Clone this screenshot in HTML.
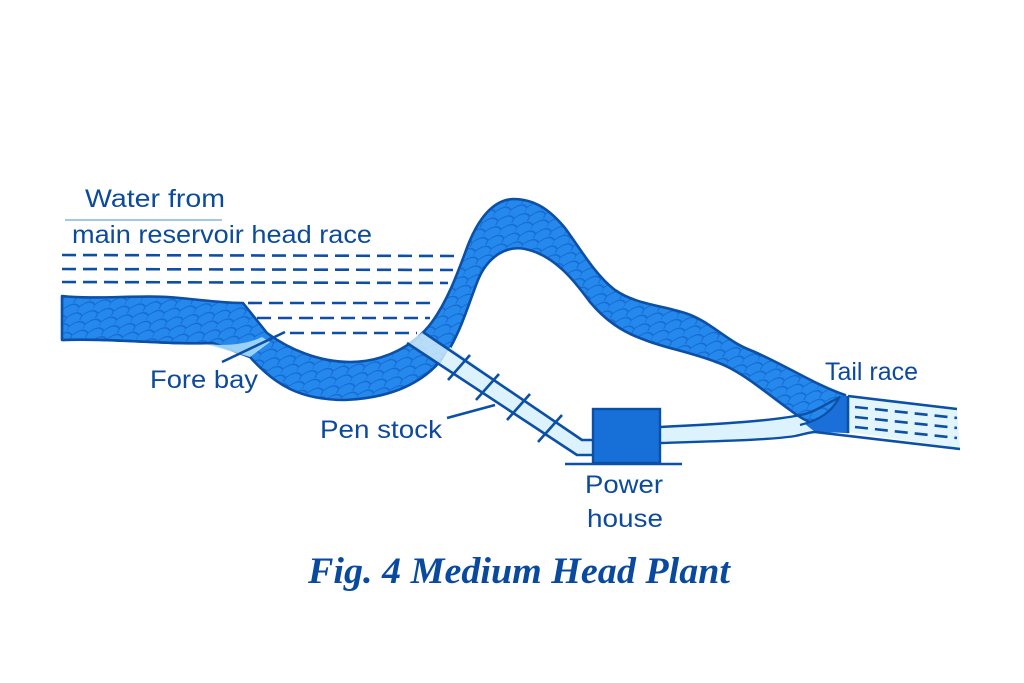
<!DOCTYPE html>
<html><head><meta charset="utf-8"><style>
html,body{margin:0;padding:0;background:#fff;}
svg{display:block;}
</style></head><body>
<svg width="1024" height="683" viewBox="0 0 1024 683" xmlns="http://www.w3.org/2000/svg">
<defs>
<pattern id="sc" width="16" height="18" patternUnits="userSpaceOnUse" patternTransform="rotate(-8) skewX(-35)">
<rect width="16" height="18" fill="#2588ec"/>
<path d="M0,9 Q8,2 16,9 M-8,18 Q0,11 8,18 M8,18 Q16,11 24,18 M0,9 L0,13 M8,18 L8,22 M8,0 L8,4" fill="none" stroke="#1160c6" stroke-width="1.2" opacity="0.75"/>
</pattern>
</defs>
<rect width="1024" height="683" fill="#fff"/>

<!-- dashed head race lines -->
<g stroke="#0d4fa3" stroke-width="2.6" stroke-dasharray="14 7" fill="none">
<line x1="62" y1="255" x2="458" y2="256"/>
<line x1="62" y1="269" x2="453" y2="270"/>
<line x1="62" y1="282" x2="448" y2="283"/>
<line x1="248" y1="303" x2="435" y2="303"/>
<line x1="257" y1="318" x2="430" y2="318"/>
<line x1="290" y1="333" x2="417" y2="333"/>
</g>

<!-- tail pipe -->
<path d="M660,427 C720,424 775,421 805,413 L838,398 L848,433 C830,432 815,431 808,431 C780,440 720,441 660,443 Z" fill="#dcf2fd"/>

<!-- ribbon -->
<path d="M62,296 C100,300 140,294 180,298 S230,303 243,303 L267,333 C290,350 320,362 350,362 C385,362 415,345 432,322 C448,300 458,272 468,245 C478,220 492,200 513,199 C535,199 550,210 565,228 C580,248 595,275 615,290 C635,304 660,305 685,313 C710,321 725,340 750,350 C780,362 815,385 845,395 L848,432 C825,430 805,422 790,410 C765,392 740,370 716,362 C690,352 665,348 645,340 C622,332 605,320 590,302 C575,282 555,255 525,249 C505,245 487,258 478,280 C470,300 463,325 450,348 C430,380 395,398 345,400 C300,400 275,385 250,357 L213,343 C170,345 110,338 62,340 Z" fill="url(#sc)" stroke="#0c4fa6" stroke-width="2.6" stroke-linejoin="round"/>

<!-- fore bay light wedge -->
<path d="M206,344 L250,357 L270,342 L262,337 C245,345 225,346 206,344 Z" fill="#a8dcf8" opacity="0.9"/>
<path d="M62,340 C110,338 170,345 213,343" fill="none" stroke="#0c4fa6" stroke-width="2.4"/>

<!-- junction darker -->
<path d="M840,396 C832,410 822,418 805,424 L815,432 L848,433 L848,396 Z" fill="#1b6fd8"/>
<path d="M840,396 C832,412 820,420 800,425" fill="none" stroke="#0c4fa6" stroke-width="2.2"/>
<path d="M660,427 C720,424 775,421 805,414 C815,411 825,405 838,398" fill="none" stroke="#0c4fa6" stroke-width="2.4"/>
<path d="M660,443 C720,441 770,440 795,436 C805,434 810,432 815,432" fill="none" stroke="#0c4fa6" stroke-width="2.4"/>

<!-- tail race channel -->
<path d="M848,396 L957,409 L960,448 L848,432 Z" fill="#e2f5fd"/>
<g stroke="#0c4fa6" stroke-width="2.6" fill="none">
<line x1="848" y1="396" x2="957" y2="409"/>
<line x1="815" y1="432" x2="960" y2="449"/>
<line x1="848" y1="396" x2="848" y2="433"/>
</g>
<g stroke="#0d4fa3" stroke-width="2.6" stroke-dasharray="13 7" fill="none">
<line x1="855" y1="407" x2="957" y2="418"/>
<line x1="855" y1="417" x2="957" y2="428"/>
<line x1="855" y1="427" x2="957" y2="438"/>
</g>

<!-- penstock -->
<path d="M423,332 L582,440 L593,440 L593,455 L577,455 L407,343 Z" fill="#dcf2fd" opacity="0.8"/>
<path d="M450,347 L582,440 L593,440 L593,455 L577,455 L440,364 Z" fill="#dcf2fd"/>
<g stroke="#0c4fa6" stroke-width="2.6" fill="none" stroke-linejoin="round">
<polyline points="423,332 582,440 594,440"/>
<polyline points="407,343 577,455 594,455"/>
<line x1="448" y1="380" x2="470" y2="355"/>
<line x1="476" y1="400" x2="499" y2="374"/>
<line x1="507" y1="420" x2="530" y2="394"/>
<line x1="538" y1="442" x2="562" y2="415"/>
<line x1="447" y1="418" x2="495" y2="405"/>
<line x1="222" y1="362" x2="285" y2="332"/>
</g>

<!-- power house -->
<rect x="593" y="409" width="67" height="54" fill="#1670d8" stroke="#0c4fa6" stroke-width="2.4"/>
<line x1="565" y1="464" x2="682" y2="464" stroke="#0c4fa6" stroke-width="2.6"/>

<!-- text -->
<line x1="65" y1="220" x2="222" y2="220" stroke="#6aa6de" stroke-width="1.3"/>
<g font-family="'Liberation Sans', sans-serif" font-size="25" fill="#0c4a9c">
<text x="85" y="207" textLength="140" lengthAdjust="spacingAndGlyphs">Water from</text>
<text x="72" y="243" textLength="300" lengthAdjust="spacingAndGlyphs">main reservoir head race</text>
<text x="150" y="388" textLength="108" lengthAdjust="spacingAndGlyphs">Fore bay</text>
<text x="320" y="438" textLength="122" lengthAdjust="spacingAndGlyphs">Pen stock</text>
<text x="585" y="493" textLength="78" lengthAdjust="spacingAndGlyphs">Power</text>
<text x="587" y="527" textLength="76" lengthAdjust="spacingAndGlyphs">house</text>
<text x="825" y="380" textLength="93" lengthAdjust="spacingAndGlyphs">Tail race</text>
</g>
<text x="308" y="583" font-family="'Liberation Serif', serif" font-style="italic" font-weight="bold" font-size="37" fill="#0a4a9e" textLength="422" lengthAdjust="spacingAndGlyphs">Fig. 4 Medium Head Plant</text>
</svg>
</body></html>
